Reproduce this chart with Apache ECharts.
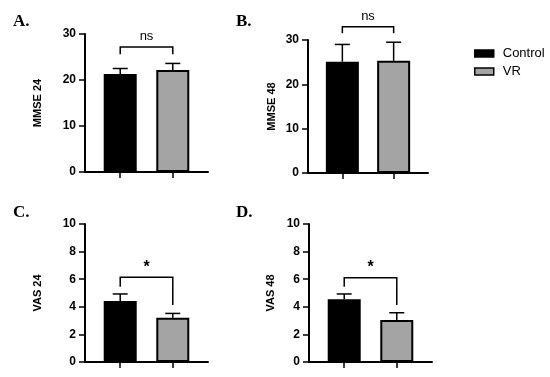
<!DOCTYPE html>
<html><head><meta charset="utf-8">
<script src="https://cdn.jsdelivr.net/npm/echarts@6/dist/echarts.min.js"></script>
<style>html,body{margin:0;padding:0;background:#fff}#c{width:550px;height:377px}</style>
</head><body><div id="c"></div>
<script>
// ---- data ----
const groups = ['Control', 'VR'];
const panelLabels = ['A.', 'B.', 'C.', 'D.'];
const yNames = ['MMSE 24', 'MMSE 48', 'VAS 24', 'VAS 48'];
const yMax = [30, 30, 10, 10];
const yStep = [10, 10, 2, 2];
const controlMeans = [21.3, 25.1, 4.42, 4.54];
const vrMeans = [22.2, 25.3, 3.21, 3.04];
const controlErr = [1.2, 3.9, 0.51, 0.39];
const vrErr = [1.4, 4.2, 0.31, 0.53];
const sigLabels = ['ns', 'ns', '*', '*'];
const bracketTop = [27.2, 33.0, 6.14, 6.11];
const bracketLeftEnd = [25.6, 31.5, 5.46, 5.46];
const bracketRightEnd = [25.6, 31.5, 4.13, 4.13];

// ---- layout ----
const grids = [
  {left: 85, top: 34, width: 123, height: 138},
  {left: 308, top: 40, width: 120, height: 133},
  {left: 85, top: 224, width: 123, height: 138},
  {left: 309, top: 224, width: 123, height: 138}
];
const nameGaps = [42, 31, 42, 33];
const letterPos = [[8, 8], [231, 8], [8, 199], [231, 199]];
const groupPos = groups.map((g, i) => i + 1);
const fills = ['#000000', '#a4a4a4'];
const FONT = '"Liberation Sans", Arial, sans-serif';

const option = {
  animation: false,
  backgroundColor: '#fff',
  title: panelLabels.map((t, i) => ({
    text: t, left: letterPos[i][0], top: letterPos[i][1],
    textStyle: {fontFamily: '"Liberation Serif", "Times New Roman", serif', fontWeight: 'bold', fontSize: 17, color: '#000'}
  })),
  legend: {
    orient: 'vertical', left: 469, top: 42, itemWidth: 19, itemHeight: 7, itemGap: 5,
    icon: 'rect',
    textStyle: {fontFamily: FONT, fontSize: 13, color: '#000', padding: [0, 0, 0, 4]},
    data: groups.map((g, i) => ({name: g, itemStyle: {color: fills[i], borderColor: '#000', borderWidth: 1.5}}))
  },
  grid: grids.map(g => Object.assign({containLabel: false}, g)),
  xAxis: grids.map((g, i) => ({
    type: 'value', gridIndex: i, min: 0.33, max: 2.67,
    axisLine: {show: true, lineStyle: {color: '#000', width: 2}},
    axisTick: {show: true, customValues: groupPos, length: 6, lineStyle: {color: '#000', width: 1.5}},
    axisLabel: {show: false},
    splitLine: {show: false}
  })),
  yAxis: grids.map((g, i) => ({
    type: 'value', gridIndex: i, min: 0, max: yMax[i], interval: yStep[i],
    name: yNames[i], nameLocation: 'middle', nameGap: nameGaps[i],
    nameTextStyle: {fontFamily: FONT, fontWeight: 'bold', fontSize: 11, color: '#000'},
    axisLine: {show: true, lineStyle: {color: '#000', width: 2}},
    axisTick: {show: true, length: 6, lineStyle: {color: '#000', width: 1.5}},
    axisLabel: {fontFamily: FONT, fontWeight: 'bold', fontSize: 12, color: '#000', margin: 9},
    splitLine: {show: false}
  })),
  series: []
};

grids.forEach((g, i) => {
  const means = [controlMeans[i], vrMeans[i]];
  const errs = [controlErr[i], vrErr[i]];
  groups.forEach((name, k) => {
    option.series.push({
      type: 'bar', name: name, xAxisIndex: i, yAxisIndex: i,
      barWidth: 33, barGap: '-100%',
      itemStyle: {color: fills[k], borderColor: '#000', borderWidth: 2},
      data: [[groupPos[k], means[k]]],
      z: 2
    });
  });
  option.series.push({
    type: 'custom', name: 'err' + i, xAxisIndex: i, yAxisIndex: i, z: 3,
    data: groups.map((n, k) => [groupPos[k], means[k], errs[k]]),
    renderItem: function (params, api) {
      const x = api.value(0), m = api.value(1), e = api.value(2);
      const p0 = api.coord([x, m]), p1 = api.coord([x, m + e]);
      const st = {stroke: '#000', lineWidth: 1.5};
      return {type: 'group', children: [
        {type: 'line', shape: {x1: p0[0], y1: p0[1], x2: p1[0], y2: p1[1]}, style: st},
        {type: 'line', shape: {x1: p1[0] - 7.5, y1: p1[1], x2: p1[0] + 7.5, y2: p1[1]}, style: st}
      ]};
    }
  });
  option.series.push({
    type: 'custom', name: 'sig' + i, xAxisIndex: i, yAxisIndex: i, z: 3,
    data: [[groupPos[0], groupPos[1], bracketTop[i], bracketLeftEnd[i], bracketRightEnd[i]]],
    renderItem: function (params, api) {
      const x1 = api.value(0), x2 = api.value(1), yt = api.value(2), yl = api.value(3), yr = api.value(4);
      const lbl = sigLabels[i];
      const a = api.coord([x1, yl]), b = api.coord([x1, yt]), c = api.coord([x2, yt]), d = api.coord([x2, yr]);
      const star = lbl === '*';
      return {type: 'group', children: [
        {type: 'polyline', shape: {points: [a, b, c, d]}, style: {stroke: '#000', lineWidth: 1.5, fill: null}},
        {type: 'text', style: {text: lbl, x: (b[0] + c[0]) / 2, y: b[1] - (star ? 2 : 4), align: 'center', verticalAlign: 'bottom',
          font: (star ? 'bold 16px ' : '13px ') + FONT, fill: '#000'}}
      ]};
    }
  });
});

const chart = echarts.init(document.getElementById('c'), null, {renderer: 'canvas'});
chart.setOption(option);
</script>
</body></html>
